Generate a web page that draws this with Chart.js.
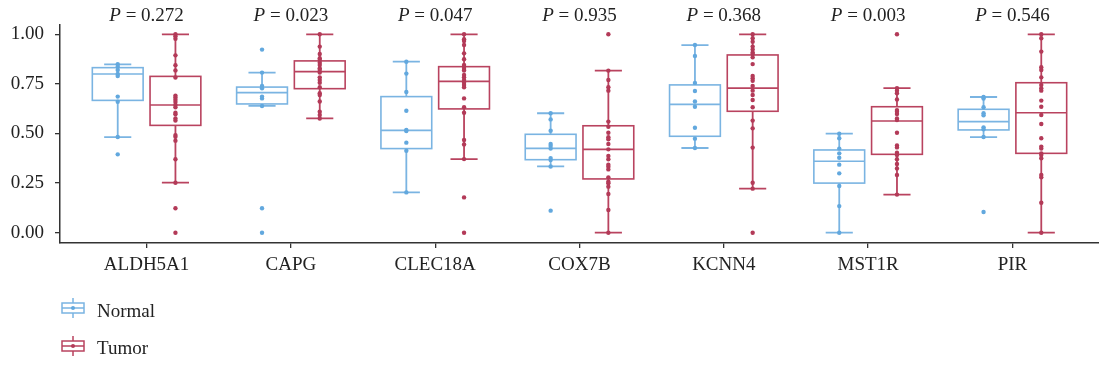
<!DOCTYPE html>
<html>
<head>
<meta charset="utf-8">
<script src="https://cdn.jsdelivr.net/npm/chart.js@4/dist/chart.umd.min.js"></script>
<style>
  html, body { margin: 0; padding: 0; background: #fff; }
  #wrap { width: 1099px; height: 368px; }
</style>
</head>
<body>
<div id="wrap"><canvas id="boxChart" width="1099" height="368"></canvas></div>
<script>
// ---- data ----
const genes = ["ALDH5A1", "CAPG", "CLEC18A", "COX7B", "KCNN4", "MST1R", "PIR"];
const pValues = ["0.272", "0.023", "0.047", "0.935", "0.368", "0.003", "0.546"];
const yTicks = [0, 0.25, 0.5, 0.75, 1];

// box stats (lower whisker, Q1, median, Q3, upper whisker)
const normalLow  = [0.482, 0.639, 0.203, 0.334, 0.427, 0.000, 0.482];
const normalQ1   = [0.667, 0.649, 0.424, 0.368, 0.486, 0.250, 0.518];
const normalMed  = [0.800, 0.706, 0.516, 0.425, 0.647, 0.360, 0.560];
const normalQ3   = [0.832, 0.734, 0.686, 0.496, 0.745, 0.417, 0.622];
const normalHigh = [0.849, 0.807, 0.862, 0.602, 0.946, 0.499, 0.684];

const tumorLow  = [0.252, 0.576, 0.371, 0.000, 0.222, 0.192, 0.000];
const tumorQ1   = [0.541, 0.726, 0.624, 0.271, 0.612, 0.395, 0.400];
const tumorMed  = [0.644, 0.812, 0.763, 0.420, 0.729, 0.563, 0.605];
const tumorQ3   = [0.788, 0.866, 0.837, 0.539, 0.896, 0.635, 0.756];
const tumorHigh = [1.000, 1.000, 1.000, 0.817, 1.000, 0.729, 1.000];

// individual samples
const normalPoints = [
  [0.849, 0.837, 0.820, 0.800, 0.790, 0.686, 0.660, 0.482, 0.395],
  [0.923, 0.807, 0.740, 0.728, 0.686, 0.677, 0.639, 0.123, 0.000],
  [0.862, 0.802, 0.709, 0.615, 0.518, 0.513, 0.454, 0.413, 0.203],
  [0.602, 0.571, 0.514, 0.447, 0.437, 0.424, 0.376, 0.366, 0.334, 0.111],
  [0.946, 0.891, 0.755, 0.714, 0.661, 0.635, 0.529, 0.474, 0.427],
  [0.499, 0.476, 0.424, 0.400, 0.378, 0.343, 0.299, 0.235, 0.134, 0.000],
  [0.684, 0.676, 0.632, 0.602, 0.592, 0.531, 0.521, 0.482, 0.104]
];
const tumorPoints = [
  [1.000, 0.990, 0.978, 0.894, 0.844, 0.818, 0.782, 0.691, 0.682, 0.670, 0.659, 0.644,
   0.632, 0.605, 0.597, 0.576, 0.565, 0.492, 0.484, 0.464, 0.370, 0.252, 0.123, 0.000],
  [1.000, 0.938, 0.901, 0.879, 0.871, 0.857, 0.845, 0.829, 0.820, 0.807, 0.783, 0.770,
   0.756, 0.733, 0.703, 0.694, 0.661, 0.610, 0.593, 0.576],
  [1.000, 0.975, 0.966, 0.946, 0.904, 0.874, 0.845, 0.837, 0.825, 0.817, 0.795, 0.783,
   0.770, 0.756, 0.745, 0.733, 0.677, 0.632, 0.605, 0.467, 0.445, 0.371, 0.178, 0.000],
  [1.000, 0.817, 0.770, 0.733, 0.716, 0.560, 0.534, 0.504, 0.481, 0.471, 0.447, 0.420,
   0.387, 0.370, 0.343, 0.333, 0.319, 0.279, 0.257, 0.249, 0.232, 0.195, 0.114, 0.000],
  [1.000, 0.980, 0.963, 0.938, 0.924, 0.908, 0.901, 0.884, 0.850, 0.790, 0.778, 0.766,
   0.740, 0.716, 0.694, 0.669, 0.632, 0.565, 0.526, 0.429, 0.252, 0.222, 0.000],
  [1.000, 0.729, 0.716, 0.703, 0.672, 0.618, 0.610, 0.598, 0.576, 0.568, 0.504, 0.440,
   0.430, 0.403, 0.392, 0.370, 0.346, 0.324, 0.291, 0.192],
  [1.000, 0.980, 0.913, 0.834, 0.820, 0.783, 0.745, 0.728, 0.716, 0.666, 0.635, 0.593,
   0.548, 0.476, 0.434, 0.424, 0.400, 0.392, 0.375, 0.291, 0.279, 0.151, 0.000]
];

const NORMAL_LINE = "#7ab4e2";
const NORMAL_DOT = "#62a8de";
const TUMOR_LINE = "#b9435f";
const TUMOR_DOT = "#b33a58";
const AXIS = "#333";
const FONT = '"Liberation Serif", "Times New Roman", serif';

const OFFSET = 0.2;     // group offset from category centre
const HALF_BOX = 0.176;
const HALF_CAP = 0.094;

Chart.defaults.font.family = FONT;
Chart.defaults.font.size = 19;
Chart.defaults.color = "#222";

const groups = [
  { off: -OFFSET, line: NORMAL_LINE, low: normalLow, q1: normalQ1, med: normalMed, q3: normalQ3, high: normalHigh },
  { off: OFFSET, line: TUMOR_LINE, low: tumorLow, q1: tumorQ1, med: tumorMed, q3: tumorQ3, high: tumorHigh }
];

// boxes + whiskers, drawn under the dots
const boxPlugin = {
  id: "boxes",
  beforeDatasetsDraw(chart) {
    const { ctx, scales: { x, y } } = chart;
    ctx.save();
    groups.forEach(g => {
      ctx.strokeStyle = g.line;
      genes.forEach((name, i) => {
        const c = i + g.off;
        const xl = x.getPixelForValue(c - HALF_BOX);
        const xr = x.getPixelForValue(c + HALF_BOX);
        const xc = x.getPixelForValue(c);
        const cl = x.getPixelForValue(c - HALF_CAP);
        const cr = x.getPixelForValue(c + HALF_CAP);
        const yLow = y.getPixelForValue(g.low[i]);
        const yQ1 = y.getPixelForValue(g.q1[i]);
        const yMed = y.getPixelForValue(g.med[i]);
        const yQ3 = y.getPixelForValue(g.q3[i]);
        const yHigh = y.getPixelForValue(g.high[i]);

        ctx.lineWidth = 1.8;
        ctx.beginPath();
        ctx.moveTo(xc, yQ1); ctx.lineTo(xc, yLow);
        ctx.moveTo(xc, yQ3); ctx.lineTo(xc, yHigh);
        ctx.moveTo(cl, yLow); ctx.lineTo(cr, yLow);
        ctx.moveTo(cl, yHigh); ctx.lineTo(cr, yHigh);
        ctx.stroke();

        ctx.lineWidth = 1.6;
        ctx.strokeRect(xl, yQ3, xr - xl, yQ1 - yQ3);
        ctx.beginPath();
        ctx.moveTo(xl, yMed); ctx.lineTo(xr, yMed);
        ctx.stroke();
      });
    });
    ctx.restore();
  }
};

// P values above each gene and the legend below the axis
const annotPlugin = {
  id: "annot",
  afterDraw(chart) {
    const { ctx, scales: { x } } = chart;
    ctx.save();
    ctx.fillStyle = "#222";
    ctx.textBaseline = "alphabetic";
    genes.forEach((name, i) => {
      const italic = "italic 19px " + FONT;
      const normal = "19px " + FONT;
      ctx.font = italic;
      const wP = ctx.measureText("P").width;
      ctx.font = normal;
      const rest = " = " + pValues[i];
      const wR = ctx.measureText(rest).width;
      const start = x.getPixelForValue(i) - (wP + wR) / 2;
      ctx.font = italic;
      ctx.textAlign = "left";
      ctx.fillText("P", start, 21);
      ctx.font = normal;
      ctx.fillText(rest, start + wP, 21);
    });

    const items = [
      { label: "Normal", line: NORMAL_LINE, dot: NORMAL_DOT, cy: 308, base: 316.5 },
      { label: "Tumor", line: TUMOR_LINE, dot: TUMOR_DOT, cy: 346, base: 354 }
    ];
    items.forEach(it => {
      ctx.strokeStyle = it.line;
      ctx.lineWidth = 1.5;
      ctx.strokeRect(62, it.cy - 5, 22, 10);
      ctx.beginPath();
      ctx.moveTo(73, it.cy - 10); ctx.lineTo(73, it.cy - 5);
      ctx.moveTo(73, it.cy + 5); ctx.lineTo(73, it.cy + 10);
      ctx.moveTo(62, it.cy); ctx.lineTo(84, it.cy);
      ctx.stroke();
      ctx.fillStyle = it.dot;
      ctx.beginPath();
      ctx.arc(73, it.cy, 2, 0, Math.PI * 2);
      ctx.fill();
      ctx.fillStyle = "#222";
      ctx.font = "19px " + FONT;
      ctx.fillText(it.label, 97, it.base);
    });
    ctx.restore();
  }
};

new Chart(document.getElementById("boxChart"), {
  type: "scatter",
  data: {
    datasets: [
      {
        label: "Normal",
        data: normalPoints.flatMap((vals, i) => vals.map(v => ({ x: i - OFFSET, y: v }))),
        backgroundColor: NORMAL_DOT,
        borderWidth: 0,
        pointRadius: 2.2
      },
      {
        label: "Tumor",
        data: tumorPoints.flatMap((vals, i) => vals.map(v => ({ x: i + OFFSET, y: v }))),
        backgroundColor: TUMOR_DOT,
        borderWidth: 0,
        pointRadius: 2.2
      }
    ]
  },
  options: {
    responsive: false,
    animation: false,
    layout: { autoPadding: false, padding: { top: 25, right: 0, bottom: 0, left: 0 } },
    plugins: {
      legend: { display: false },
      tooltip: { enabled: false }
    },
    scales: {
      x: {
        type: "linear",
        min: -0.6,
        max: 6.6,
        afterBuildTicks: s => { s.ticks = genes.map((g, i) => ({ value: i })); },
        afterFit: s => { s.height = 125; },
        ticks: {
          callback: v => genes[v],
          autoSkip: false,
          maxRotation: 0,
          padding: 6,
          color: "#222"
        },
        grid: { drawOnChartArea: false, tickLength: 5, color: AXIS, lineWidth: 1.3 },
        border: { color: AXIS, width: 1.5 }
      },
      y: {
        min: -0.052,
        max: 1.047,
        afterBuildTicks: s => { s.ticks = yTicks.map(v => ({ value: v })); },
        afterFit: s => { s.width = 60; },
        ticks: {
          callback: v => v.toFixed(2),
          padding: 11,
          color: "#222"
        },
        grid: { drawOnChartArea: false, tickLength: 5, color: AXIS, lineWidth: 1.3 },
        border: { color: AXIS, width: 1.5 }
      }
    }
  },
  plugins: [boxPlugin, annotPlugin]
});
</script>
</body>
</html>
